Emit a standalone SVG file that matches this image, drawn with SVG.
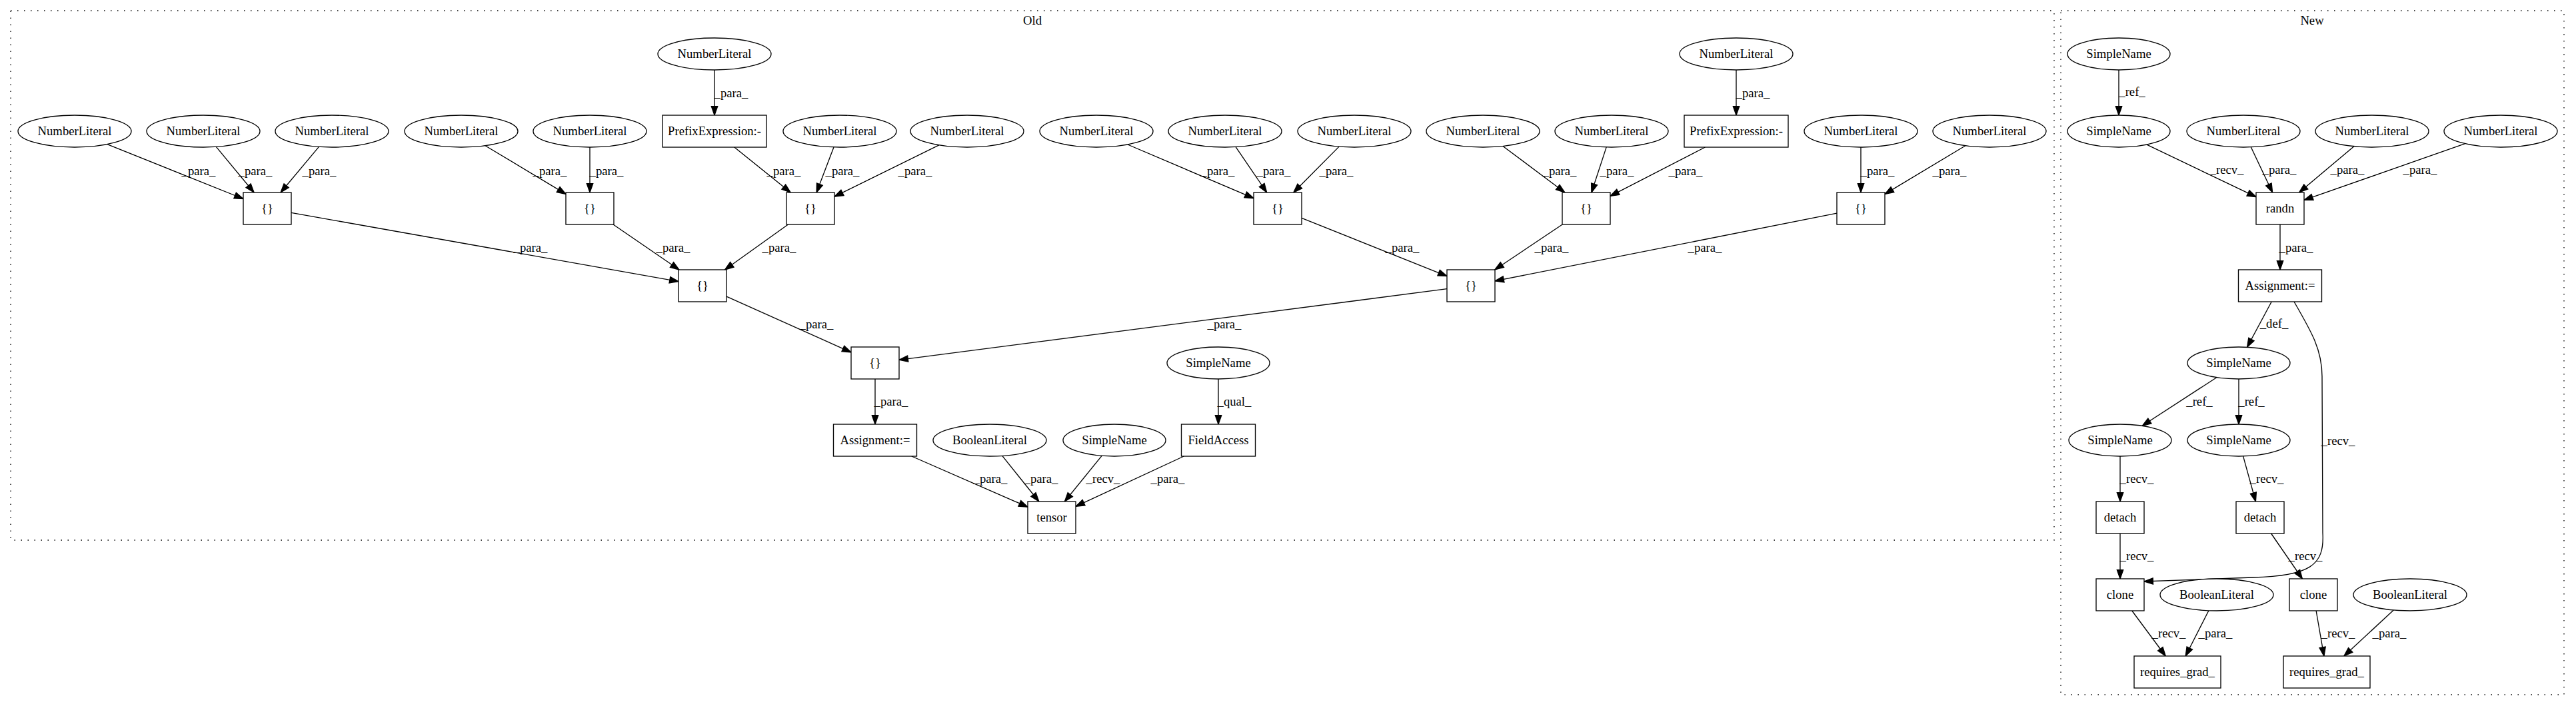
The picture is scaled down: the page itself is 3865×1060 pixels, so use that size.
<svg xmlns="http://www.w3.org/2000/svg" width="3865" height="1060" viewBox="0 0 3865 1060">
<style>
.n ellipse,.n rect{fill:#fff;stroke:#000;stroke-width:1.33}
.n text,.lbl,.cl text{font-family:"Liberation Serif","Times New Roman",serif;font-size:18.67px;text-anchor:middle;fill:#000}
.e{fill:none;stroke:#000;stroke-width:1.33;marker-end:url(#arr)}
.cl rect{fill:none;stroke:#000;stroke-width:1.33;stroke-dasharray:1.5,8.5}
</style>
<defs>
<marker id="arr" viewBox="0 0 13.33 9.33" refX="13.33" refY="4.67" markerWidth="13.33" markerHeight="9.33" markerUnits="userSpaceOnUse" orient="auto" overflow="visible">
<path d="M0,0 L13.33,4.67 L0,9.33 z" fill="#000" stroke="#000" stroke-width="1.33"/>
</marker>
</defs>
<rect width="3865" height="1060" fill="#fff"/>
<g class="cl" id="cluster_old"><rect x="16" y="16" width="3066" height="795"/><text x="1549" y="37">Old</text></g>
<g class="cl" id="cluster_new"><rect x="3092" y="16" width="755" height="1027"/><text x="3469" y="37">New</text></g>

<g id="connectors">
<line class="e" x1="1072" y1="105" x2="1072" y2="173"/>
<line class="e" x1="2605" y1="105" x2="2605" y2="173"/>
<line class="e" x1="160.9" y1="216.6" x2="365" y2="298.5"/>
<line class="e" x1="324.3" y1="220.4" x2="381.1" y2="289"/>
<line class="e" x1="478.5" y1="220.4" x2="421.1" y2="289"/>
<line class="e" x1="728.1" y1="218.7" x2="849" y2="291.4"/>
<line class="e" x1="885" y1="221" x2="885" y2="289"/>
<line class="e" x1="1101.8" y1="221" x2="1186.2" y2="289"/>
<line class="e" x1="1251" y1="220.9" x2="1225.1" y2="289"/>
<line class="e" x1="1408.8" y1="217.8" x2="1252" y2="295.2"/>
<line class="e" x1="1691.9" y1="217" x2="1881" y2="297.6"/>
<line class="e" x1="1854.1" y1="220.6" x2="1900.7" y2="289"/>
<line class="e" x1="2009.1" y1="220.1" x2="1940.8" y2="289"/>
<line class="e" x1="2255" y1="219.5" x2="2347.9" y2="289"/>
<line class="e" x1="2410.2" y1="220.9" x2="2387.9" y2="289"/>
<line class="e" x1="2558.4" y1="221" x2="2416" y2="294.4"/>
<line class="e" x1="2792" y1="221" x2="2792" y2="289"/>
<line class="e" x1="2948.9" y1="218.7" x2="2828" y2="291.4"/>
<line class="e" x1="437" y1="319.4" x2="1018" y2="422.6"/>
<line class="e" x1="920" y1="337" x2="1019" y2="405"/>
<line class="e" x1="1182.5" y1="337" x2="1087.5" y2="405"/>
<line class="e" x1="1953" y1="327.4" x2="2171" y2="414.6"/>
<line class="e" x1="2344.2" y1="337" x2="2242.8" y2="405"/>
<line class="e" x1="2756" y1="320.1" x2="2243" y2="421.9"/>
<line class="e" x1="1090" y1="445.1" x2="1277" y2="528.9"/>
<line class="e" x1="2171" y1="433.7" x2="1349" y2="540.3"/>
<line class="e" x1="1313" y1="569" x2="1313" y2="637"/>
<line class="e" x1="1828" y1="569" x2="1828" y2="637"/>
<line class="e" x1="1367.8" y1="685" x2="1542" y2="761.2"/>
<line class="e" x1="1503.8" y1="684.4" x2="1558.8" y2="753"/>
<line class="e" x1="1653.1" y1="684.3" x2="1597.4" y2="753"/>
<line class="e" x1="1776.3" y1="685" x2="1614" y2="760.3"/>

<line class="e" x1="3179" y1="105" x2="3179" y2="173"/>
<line class="e" x1="3221" y1="217.1" x2="3385" y2="295.7"/>
<line class="e" x1="3377.3" y1="220.8" x2="3409.6" y2="289"/>
<line class="e" x1="3531.9" y1="219.7" x2="3449.6" y2="289"/>
<line class="e" x1="3698.7" y1="215.7" x2="3457" y2="300.4"/>
<line class="e" x1="3421" y1="337" x2="3421" y2="405"/>
<line class="e" x1="3408.2" y1="453" x2="3371.6" y2="521.3"/>
<line class="e" x1="3325.8" y1="566.7" x2="3214.2" y2="639.3"/>
<line class="e" x1="3359" y1="569" x2="3359" y2="637"/>
<line class="e" x1="3181" y1="685" x2="3181" y2="753"/>
<line class="e" x1="3365.6" y1="684.9" x2="3384.4" y2="753"/>
<line class="e" x1="3181" y1="801" x2="3181" y2="869"/>
<line class="e" x1="3407.6" y1="801" x2="3454.4" y2="869"/>
<path class="e" d="M3442,453 C3468,498 3484,525 3484,565 L3485,800 C3488,850 3465,864 3380,867 L3217,873"/>
<line class="e" x1="3198.8" y1="917" x2="3249.2" y2="985"/>
<line class="e" x1="3313.9" y1="916.8" x2="3279.2" y2="985"/>
<line class="e" x1="3475.1" y1="917" x2="3486.9" y2="985"/>
<line class="e" x1="3591.3" y1="916" x2="3516.9" y2="985"/>

<text class="lbl" x="1097" y="146">_para_</text>
<text class="lbl" x="2630" y="146">_para_</text>
<text class="lbl" x="298" y="263">_para_</text>
<text class="lbl" x="383" y="263">_para_</text>
<text class="lbl" x="479" y="263">_para_</text>
<text class="lbl" x="825" y="263">_para_</text>
<text class="lbl" x="910" y="263">_para_</text>
<text class="lbl" x="1176" y="263">_para_</text>
<text class="lbl" x="1264" y="263">_para_</text>
<text class="lbl" x="1373" y="263">_para_</text>
<text class="lbl" x="1827" y="263">_para_</text>
<text class="lbl" x="1911" y="263">_para_</text>
<text class="lbl" x="2005" y="263">_para_</text>
<text class="lbl" x="2340" y="263">_para_</text>
<text class="lbl" x="2426" y="263">_para_</text>
<text class="lbl" x="2529" y="263">_para_</text>
<text class="lbl" x="2817" y="263">_para_</text>
<text class="lbl" x="2925" y="263">_para_</text>
<text class="lbl" x="796" y="378">_para_</text>
<text class="lbl" x="1010" y="378">_para_</text>
<text class="lbl" x="1169" y="378">_para_</text>
<text class="lbl" x="2104" y="378">_para_</text>
<text class="lbl" x="2328" y="378">_para_</text>
<text class="lbl" x="2558" y="378">_para_</text>
<text class="lbl" x="1225" y="493">_para_</text>
<text class="lbl" x="1837" y="493">_para_</text>
<text class="lbl" x="1337" y="609">_para_</text>
<text class="lbl" x="1852" y="609">_qual_</text>
<text class="lbl" x="1486" y="725">_para_</text>
<text class="lbl" x="1562" y="725">_para_</text>
<text class="lbl" x="1655" y="725">_recv_</text>
<text class="lbl" x="1752" y="725">_para_</text>

<text class="lbl" x="3199" y="144">_ref_</text>
<text class="lbl" x="3341" y="261">_recv_</text>
<text class="lbl" x="3420" y="261">_para_</text>
<text class="lbl" x="3522" y="261">_para_</text>
<text class="lbl" x="3631" y="261">_para_</text>
<text class="lbl" x="3445" y="378">_para_</text>
<text class="lbl" x="3412" y="492">_def_</text>
<text class="lbl" x="3300" y="609">_ref_</text>
<text class="lbl" x="3378" y="609">_ref_</text>
<text class="lbl" x="3508" y="668">_recv_</text>
<text class="lbl" x="3206" y="725">_recv_</text>
<text class="lbl" x="3401" y="725">_recv_</text>
<text class="lbl" x="3206" y="841">_recv_</text>
<text class="lbl" x="3459" y="841">_recv_</text>
<text class="lbl" x="3254" y="957">_recv_</text>
<text class="lbl" x="3324" y="957">_para_</text>
<text class="lbl" x="3508" y="957">_recv_</text>
<text class="lbl" x="3585" y="957">_para_</text>
</g>

<g class="n" id="old_nl_top1"><ellipse cx="1072" cy="81" rx="85" ry="24"/><text x="1072" y="87">NumberLiteral</text></g>
<g class="n" id="old_prefix1"><rect x="994" y="173" width="156" height="48"/><text x="1072" y="203">PrefixExpression:-</text></g>
<g class="n" id="old_nl_top2"><ellipse cx="2605" cy="81" rx="85" ry="24"/><text x="2605" y="87">NumberLiteral</text></g>
<g class="n" id="old_prefix2"><rect x="2527" y="173" width="156" height="48"/><text x="2605" y="203">PrefixExpression:-</text></g>
<g class="n" id="old_nl1"><ellipse cx="112" cy="197" rx="85" ry="24"/><text x="112" y="203">NumberLiteral</text></g>
<g class="n" id="old_nl2"><ellipse cx="305" cy="197" rx="85" ry="24"/><text x="305" y="203">NumberLiteral</text></g>
<g class="n" id="old_nl3"><ellipse cx="498" cy="197" rx="85" ry="24"/><text x="498" y="203">NumberLiteral</text></g>
<g class="n" id="old_nl4"><ellipse cx="692" cy="197" rx="85" ry="24"/><text x="692" y="203">NumberLiteral</text></g>
<g class="n" id="old_nl5"><ellipse cx="885" cy="197" rx="85" ry="24"/><text x="885" y="203">NumberLiteral</text></g>
<g class="n" id="old_nl6"><ellipse cx="1260" cy="197" rx="85" ry="24"/><text x="1260" y="203">NumberLiteral</text></g>
<g class="n" id="old_nl7"><ellipse cx="1451" cy="197" rx="85" ry="24"/><text x="1451" y="203">NumberLiteral</text></g>
<g class="n" id="old_nl8"><ellipse cx="1645" cy="197" rx="85" ry="24"/><text x="1645" y="203">NumberLiteral</text></g>
<g class="n" id="old_nl9"><ellipse cx="1838" cy="197" rx="85" ry="24"/><text x="1838" y="203">NumberLiteral</text></g>
<g class="n" id="old_nl10"><ellipse cx="2032" cy="197" rx="85" ry="24"/><text x="2032" y="203">NumberLiteral</text></g>
<g class="n" id="old_nl11"><ellipse cx="2225" cy="197" rx="85" ry="24"/><text x="2225" y="203">NumberLiteral</text></g>
<g class="n" id="old_nl12"><ellipse cx="2418" cy="197" rx="85" ry="24"/><text x="2418" y="203">NumberLiteral</text></g>
<g class="n" id="old_nl13"><ellipse cx="2792" cy="197" rx="85" ry="24"/><text x="2792" y="203">NumberLiteral</text></g>
<g class="n" id="old_nl14"><ellipse cx="2985" cy="197" rx="85" ry="24"/><text x="2985" y="203">NumberLiteral</text></g>
<g class="n" id="old_arr_a"><rect x="365" y="289" width="72" height="48"/><text x="401" y="319">{}</text></g>
<g class="n" id="old_arr_b"><rect x="849" y="289" width="72" height="48"/><text x="885" y="319">{}</text></g>
<g class="n" id="old_arr_c"><rect x="1180" y="289" width="72" height="48"/><text x="1216" y="319">{}</text></g>
<g class="n" id="old_arr_d"><rect x="1881" y="289" width="72" height="48"/><text x="1917" y="319">{}</text></g>
<g class="n" id="old_arr_e"><rect x="2344" y="289" width="72" height="48"/><text x="2380" y="319">{}</text></g>
<g class="n" id="old_arr_f"><rect x="2756" y="289" width="72" height="48"/><text x="2792" y="319">{}</text></g>
<g class="n" id="old_arr_g"><rect x="1018" y="405" width="72" height="48"/><text x="1054" y="435">{}</text></g>
<g class="n" id="old_arr_h"><rect x="2171" y="405" width="72" height="48"/><text x="2207" y="435">{}</text></g>
<g class="n" id="old_arr_i"><rect x="1277" y="521" width="72" height="48"/><text x="1313" y="551">{}</text></g>
<g class="n" id="old_sn_qual"><ellipse cx="1828" cy="545" rx="77" ry="24"/><text x="1828" y="551">SimpleName</text></g>
<g class="n" id="old_assign"><rect x="1250.5" y="637" width="125" height="48"/><text x="1313" y="667">Assignment:=</text></g>
<g class="n" id="old_bool"><ellipse cx="1485" cy="661" rx="85" ry="24"/><text x="1485" y="667">BooleanLiteral</text></g>
<g class="n" id="old_sn_recv"><ellipse cx="1672" cy="661" rx="77" ry="24"/><text x="1672" y="667">SimpleName</text></g>
<g class="n" id="old_fieldaccess"><rect x="1772.5" y="637" width="111" height="48"/><text x="1828" y="667">FieldAccess</text></g>
<g class="n" id="old_tensor"><rect x="1542" y="753" width="72" height="48"/><text x="1578" y="783">tensor</text></g>

<g class="n" id="new_sn_top"><ellipse cx="3179" cy="81" rx="77" ry="24"/><text x="3179" y="87">SimpleName</text></g>
<g class="n" id="new_sn_recv"><ellipse cx="3179" cy="197" rx="77" ry="24"/><text x="3179" y="203">SimpleName</text></g>
<g class="n" id="new_nl1"><ellipse cx="3366" cy="197" rx="85" ry="24"/><text x="3366" y="203">NumberLiteral</text></g>
<g class="n" id="new_nl2"><ellipse cx="3559" cy="197" rx="85" ry="24"/><text x="3559" y="203">NumberLiteral</text></g>
<g class="n" id="new_nl3"><ellipse cx="3752" cy="197" rx="85" ry="24"/><text x="3752" y="203">NumberLiteral</text></g>
<g class="n" id="new_randn"><rect x="3385" y="289" width="72" height="48"/><text x="3421" y="319">randn</text></g>
<g class="n" id="new_assign"><rect x="3358.5" y="405" width="125" height="48"/><text x="3421" y="435">Assignment:=</text></g>
<g class="n" id="new_sn_def"><ellipse cx="3359" cy="545" rx="77" ry="24"/><text x="3359" y="551">SimpleName</text></g>
<g class="n" id="new_sn_a"><ellipse cx="3181" cy="661" rx="77" ry="24"/><text x="3181" y="667">SimpleName</text></g>
<g class="n" id="new_sn_b"><ellipse cx="3359" cy="661" rx="77" ry="24"/><text x="3359" y="667">SimpleName</text></g>
<g class="n" id="new_detach_a"><rect x="3145" y="753" width="72" height="48"/><text x="3181" y="783">detach</text></g>
<g class="n" id="new_detach_b"><rect x="3355" y="753" width="72" height="48"/><text x="3391" y="783">detach</text></g>
<g class="n" id="new_clone_a"><rect x="3145" y="869" width="72" height="48"/><text x="3181" y="899">clone</text></g>
<g class="n" id="new_bool_a"><ellipse cx="3326" cy="893" rx="85" ry="24"/><text x="3326" y="899">BooleanLiteral</text></g>
<g class="n" id="new_clone_b"><rect x="3435" y="869" width="72" height="48"/><text x="3471" y="899">clone</text></g>
<g class="n" id="new_bool_b"><ellipse cx="3616" cy="893" rx="85" ry="24"/><text x="3616" y="899">BooleanLiteral</text></g>
<g class="n" id="new_req_a"><rect x="3202" y="985" width="130" height="48"/><text x="3267" y="1015">requires_grad_</text></g>
<g class="n" id="new_req_b"><rect x="3426" y="985" width="130" height="48"/><text x="3491" y="1015">requires_grad_</text></g>
</svg>
